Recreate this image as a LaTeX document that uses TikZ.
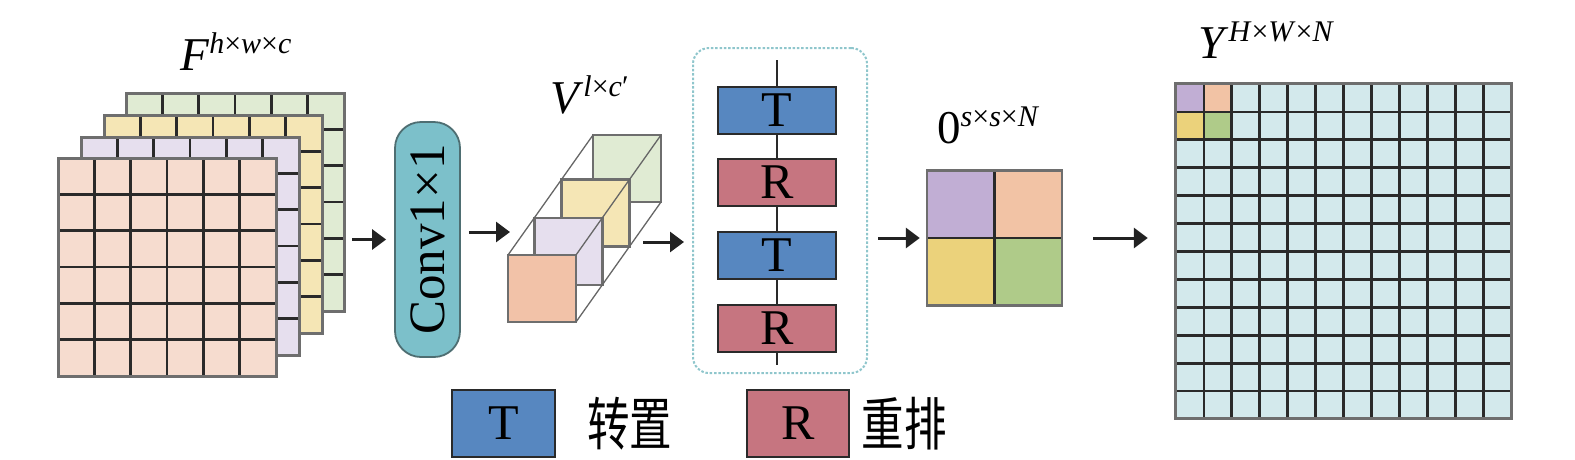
\documentclass[tikz,border=0pt]{standalone}
\usepackage{fontspec}
\setmainfont{LiberationSerif}[Extension=.ttf, UprightFont=*-Regular, ItalicFont=*-Italic, BoldFont=*-Bold, BoldItalicFont=*-BoldItalic]
\newfontfamily\cjkfont{Noto Sans CJK SC}
\usetikzlibrary{arrows.meta}
\definecolor{lpink}{HTML}{F6DCCF}
\definecolor{lpurple}{HTML}{E6DFEE}
\definecolor{lyellow}{HTML}{F5E6B5}
\definecolor{lgreen}{HTML}{E0EBD3}
\definecolor{vorange}{HTML}{F2C2A8}
\definecolor{convc}{HTML}{7CC0CA}
\definecolor{convb}{HTML}{4E6E72}
\definecolor{tblue}{HTML}{5787C0}
\definecolor{rred}{HTML}{C67580}
\definecolor{spurple}{HTML}{C1AED4}
\definecolor{sorange}{HTML}{F2C3A5}
\definecolor{syellow}{HTML}{EBD27B}
\definecolor{sgreen}{HTML}{AFCB89}
\definecolor{bigc}{HTML}{D3E9EC}
\definecolor{grpc}{HTML}{8FC6CC}
\definecolor{gridc}{HTML}{2A2A2A}
\definecolor{bordc}{HTML}{6E6E6E}
\definecolor{arrc}{HTML}{222222}
\newcommand\suplbl[2]{{\fontsize{47}{56}\selectfont #1\raisebox{17pt}{\fontsize{30}{36}\selectfont #2}}}
\begin{document}
\begin{tikzpicture}[x=1pt,y=-1pt,
  arr/.style={-{Triangle[length=14pt,width=20pt]}, line width=3pt, draw=arrc},
  lay/.style={draw=bordc, line width=3pt},
  gl/.style={draw=gridc, line width=2.8pt},
  sq/.style={draw=bordc, line width=2.5pt},
  wire/.style={draw=gray!80!black, line width=1.3pt},
  op/.style={draw=gridc, line width=2pt, minimum width=118pt, minimum height=47pt, inner sep=0pt, font=\fontsize{50}{60}\selectfont},
  lbl/.style={anchor=base west, inner sep=0pt},
  box/.style={minimum width=#1, minimum height=#1, inner sep=0pt},
]
\useasboundingbox (0,0) rectangle (1575,459);

% ---------- feature stack F ----------
\foreach \x/\y/\c in {126/93/lgreen,104/115/lyellow,81/137/lpurple,58/158/lpink}{
  \fill[\c] (\x,\y) rectangle ++(218,218);
  \foreach \k in {1,...,5} {
    \draw[gl] ({\x+\k*36.333},\y) -- ++(0,218);
    \draw[gl] (\x,{\y+\k*36.333}) -- ++(218,0);
  }
  \draw[lay] (\x,\y) rectangle ++(218,218);
}
\node[minimum width=286pt, minimum height=283pt, inner sep=0pt] (F) at (201,234.5) {};
\node[lbl] (Flbl) at (180,70) {\suplbl{\textit{F}}{\textit{h}×\textit{w}×\textit{c}}};

% ---------- Conv 1x1 ----------
\node[draw=convb, line width=1.8pt, fill=convc, rounded corners=26pt, minimum width=65pt, minimum height=235pt, inner sep=0pt] (conv) at (427.5,239.5) {};
\node[rotate=90, inner sep=0pt, font=\fontsize{51}{60}\selectfont] (convtxt) at (conv.center) {Conv1×1};

% ---------- V cubes ----------
\foreach \t/\c in {1/lgreen,0.63/lyellow,0.31/lpurple,0/vorange}{
  \filldraw[sq, fill=\c] ({508+85*\t},{255-120*\t}) rectangle ++(68,67);
}
\node[minimum width=153pt, minimum height=187pt, inner sep=0pt] (V) at (584.5,228.5) {};
\coordinate (vtl) at (508,255);
\coordinate (vtlb) at (593,135);
\coordinate (vtr) at (576,255);
\coordinate (vtrb) at (661,135);
\coordinate (vbr) at (576,322);
\coordinate (vbrb) at (661,202);
\draw[wire] (vtl) -- (vtlb);
\draw[wire] (vtr) -- (vtrb);
\draw[wire] (vbr) -- (vbrb);
\node[lbl] (Vlbl) at (550,113) {\suplbl{\textit{V}}{\textit{l}×\textit{c}′}};

% ---------- T/R group ----------
\node[draw=grpc, line width=2pt, dash pattern=on 2.5pt off 1.8pt, rounded corners=16pt, minimum width=174pt, minimum height=325pt, inner sep=0pt] (grp) at (780,210.5) {};
\coordinate (ltop) at (777,60);
\coordinate (lbot) at (777,365);
\node[op, fill=tblue] (t1) at (777,110.5) {T};
\node[op, fill=rred]  (r1) at (777,182.5) {R};
\node[op, fill=tblue] (t2) at (777,255.5) {T};
\node[op, fill=rred]  (r2) at (777,328) {R};
\draw[line width=1.5pt, draw=gridc] (ltop) -- (t1);
\draw[line width=1.5pt, draw=gridc] (t1) -- (r1);
\draw[line width=1.5pt, draw=gridc] (r1) -- (t2);
\draw[line width=1.5pt, draw=gridc] (t2) -- (r2);
\draw[line width=1.5pt, draw=gridc] (r2) -- (lbot);

% ---------- small 2x2 ----------
\node[box=135pt] (small) at (994.5,238) {};
\fill[spurple] (small.north west) rectangle (small.center);
\fill[sorange] (small.north) rectangle (small.east);
\fill[syellow] (small.west) rectangle (small.south);
\fill[sgreen] (small.center) rectangle (small.south east);
\draw[gl] (small.north) -- (small.south);
\draw[gl] (small.west) -- (small.east);
\draw[sq] (small.north west) rectangle (small.south east);
\node[lbl] (Olbl) at (937,143) {\suplbl{0}{\textit{s}×\textit{s}×\textit{N}}};

% ---------- big grid ----------
\node[box=335pt, fill=bigc] (big) at (1343.5,251) {};
\fill[spurple] (1176,84) rectangle ++(27.917,27.917);
\fill[sorange] (1203.917,84) rectangle ++(27.917,27.917);
\fill[syellow] (1176,111.917) rectangle ++(27.917,27.917);
\fill[sgreen] (1203.917,111.917) rectangle ++(27.917,27.917);
\foreach \k in {1,...,11}{
  \draw[gl] ({1176+\k*27.917},84) -- ++(0,335);
  \draw[gl] (1176,{84+\k*27.917}) -- ++(335,0);
}
\draw[lay] (big.north west) rectangle (big.south east);
\node[lbl] (Ylbl) at (1198,58) {\suplbl{\textit{Y}}{\textit{H}×\textit{W}×\textit{N}}};

% ---------- arrows ----------
\coordinate (vin) at (510,232);
\coordinate (vout) at (643,242);
\draw[arr, shorten <=8pt, shorten >=8pt] (conv.west -| F.east) -- (conv.west);
\draw[arr, shorten <=8pt] (conv.east |- vin) -- (vin);
\draw[arr, shorten >=8pt] (vout) -- (vout -| grp.west);
\draw[arr, shorten <=10pt, shorten >=7pt] (grp.east |- small.west) -- (small.west);
\draw[arr, shorten <=31pt, shorten >=28pt] (small.east) -- (small.east -| big.west);

% ---------- legend ----------
\node[op, fill=tblue, minimum width=103pt, minimum height=67pt] (legT) at (503.5,423.5) {T};
\node[inner sep=0pt] (legTtxt) at (629.5,424) {\scalebox{0.85}[1.15]{\fontsize{50}{60}\cjkfont 转置}};
\node[op, fill=rred, minimum width=102pt, minimum height=67pt] (legR) at (798,423.5) {R};
\node[inner sep=0pt] (legRtxt) at (904,424) {\scalebox{0.85}[1.15]{\fontsize{50}{60}\cjkfont 重排}};
\end{tikzpicture}
\end{document}
